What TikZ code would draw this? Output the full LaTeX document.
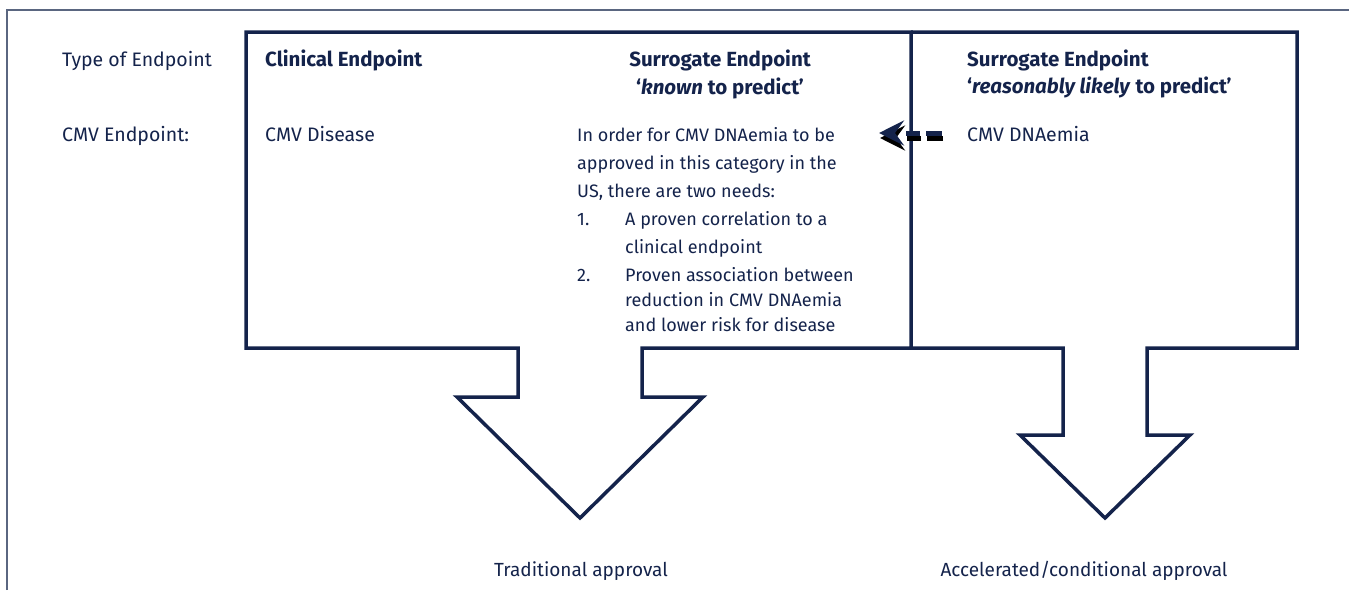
\documentclass[tikz,border=0pt]{standalone}
\usepackage{fontspec}
\setmainfont{Fira Sans}
\usetikzlibrary{arrows.meta}
\definecolor{navy}{HTML}{14234B}
\definecolor{shade}{HTML}{AEB5C2}
\definecolor{framec}{HTML}{5A6680}
\begin{document}
\begin{tikzpicture}[x=1pt,y=-1pt,
  lbl/.style={anchor=base west,inner sep=0pt,text=navy,font=\fontsize{19.5}{22}\selectfont},
  blbl/.style={lbl,font=\fontsize{20.5}{22}\selectfont\bfseries},
  boxline/.style={draw=navy,line width=3.5pt,line join=miter},
  dashline/.style={line width=5pt,dash pattern=on 16pt off 6pt on 14pt off 40pt},
  tip/.style={-{Stealth[length=25pt,width=25pt,inset=9pt]}},
]
\useasboundingbox (0,0) rectangle (1349,590);
% frame
\draw[framec,line width=1.5pt] (7,590) -- (7,10) -- (1349,10);
% left box with arrow
\draw[boxline] (246,32) -- (911,32) -- (911,348) -- (642,348) -- (642,397) -- (703,397)
  -- (580,518) -- (457,397) -- (518,397) -- (518,348) -- (246,348) -- cycle;
% right box with arrow
\draw[boxline] (911,32) -- (1297,32) -- (1297,348) -- (1147,348) -- (1147,435) -- (1190,435)
  -- (1105,518) -- (1020,435) -- (1063,435) -- (1063,348) -- (911,348);
% row labels
\node[lbl] (toe) at (62,66) {Type of Endpoint};
\node[lbl] (cmvep) at (62,141) {CMV Endpoint:};
% column headers
\node[blbl] (clin) at (265,66) {Clinical Endpoint};
\node[blbl,anchor=base] (sur1) at (720,66) {Surrogate Endpoint};
\node[blbl,anchor=base] (sur1b) at (720,94) {`\textit{known} to predict'};
\node[blbl] (sur2) at (967,66) {Surrogate Endpoint};
\node[blbl] (sur2b) at (967,93) {`\textit{reasonably likely} to predict'};
% endpoint entries
\node[lbl] (cmvd) at (265,141) {CMV Disease};
\node[lbl] (dna) at (967,141) {CMV DNAemia};
\node[lbl] (req) at (577,141) {\parbox[t]{320pt}{\fontsize{18}{28}\selectfont\raggedright
In order for CMV DNAemia to be\\
approved in this category in the\\
US, there are two needs:\\
\makebox[48pt][l]{1.}A proven correlation to a\\
\hspace*{48pt}clinical endpoint\\
\makebox[48pt][l]{2.}Proven association between\\[-3pt]
\hspace*{48pt}reduction in CMV DNAemia\\[-3pt]
\hspace*{48pt}and lower risk for disease}};
% outcomes
\node[lbl,anchor=base,font=\fontsize{19}{22}\selectfont] (trad) at (581,576) {Traditional approval};
\node[lbl,anchor=base,font=\fontsize{19}{22}\selectfont] (acc) at (1084,576) {Accelerated/conditional approval};
% dashed arrow
\coordinate (dS) at (942,133);
\coordinate (dE) at (879,133);
\draw[shade,dashline,tip] ([shift={(1,5)}]dS) -- ([shift={(1,5)}]dE);
\draw[navy,dashline,tip] (dS) -- (dE);
\end{tikzpicture}
\end{document}
